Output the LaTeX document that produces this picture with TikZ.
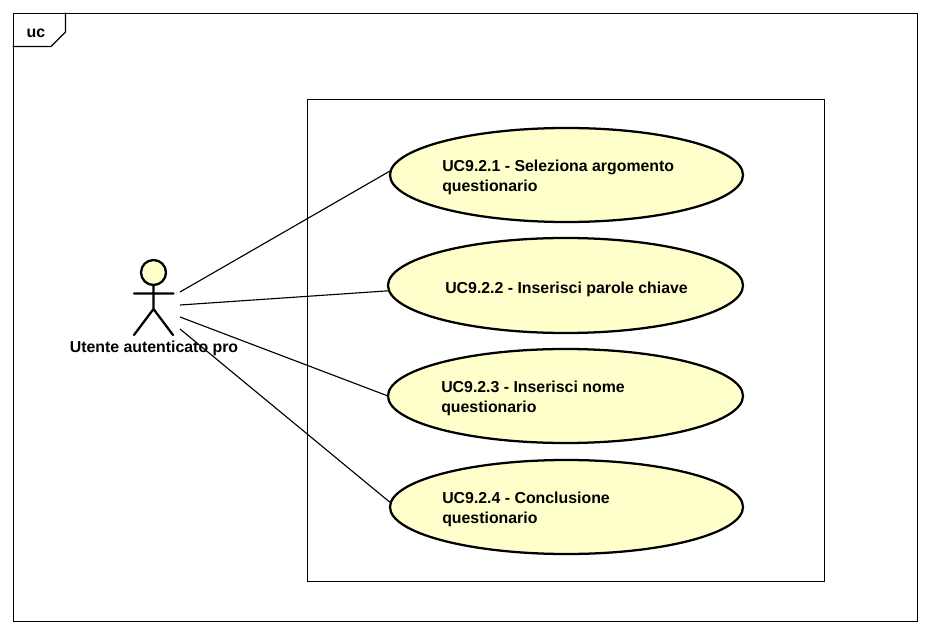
\documentclass[tikz,border=0pt]{standalone}
\usepackage{fontspec}
\setmainfont{Liberation Sans}
\usetikzlibrary{shapes.geometric}
\definecolor{ucfill}{RGB}{255,255,204}
\tikzset{x=0.75pt,y=-0.75pt,
 uc/.style={ellipse,draw=black,line width=1.7pt,fill=ucfill,inner sep=0,outer sep=0},
 lbl/.style={align=left,anchor=north west,inner sep=0,font=\fontsize{11.9pt}{15pt}\selectfont\bfseries},
 act/.style={line width=1.7pt,line cap=round},
 conn/.style={line width=0.85pt}}
\begin{document}
\begin{tikzpicture}
\useasboundingbox (0,0) rectangle (930,634);
\fill[white] (0,0) rectangle (930,634);
\node[draw,line width=0.85pt,minimum width=904*0.75pt,minimum height=608*0.75pt,inner sep=0,anchor=north west] (frame) at (12.7,12.7) {};
\draw[line width=0.85pt] (12.7,46.5) -- (51,46.5) -- (65.5,32) -- (65.5,12.7);
\node[lbl,anchor=center] (fl) at (36,33.5) {uc};
\node[draw,line width=0.85pt,minimum width=517*0.75pt,minimum height=482*0.75pt,inner sep=0,anchor=north west] (sys) at (306.7,98.7) {};
\node[uc,minimum width=353*0.75pt,minimum height=94*0.75pt] (u1) at (566.5,175) {};
\node[uc,minimum width=355*0.75pt,minimum height=95*0.75pt] (u2) at (565.5,285.5) {};
\node[uc,minimum width=355*0.75pt,minimum height=94*0.75pt] (u3) at (565.5,396) {};
\node[uc,minimum width=353*0.75pt,minimum height=94*0.75pt] (u4) at (566.5,507) {};
\node[lbl] (t1) at (442,160) {UC9.2.1 - Seleziona argomento\\questionario};
\node[lbl] (t2) at (445,282) {UC9.2.2 - Inserisci parole chiave};
\node[lbl] (t3) at (441,381) {UC9.2.3 - Inserisci nome\\questionario};
\node[lbl] (t4) at (442,492) {UC9.2.4 - Conclusione\\questionario};
\node[circle,draw=black,line width=1.7pt,fill=ucfill,minimum size=25*0.75pt,inner sep=0] (head) at (153.5,272.5) {};
\coordinate (neck) at (153.5,285.5);
\coordinate (hip) at (153.5,309);
\coordinate (la) at (134,293.5);
\coordinate (ra) at (173.5,293.5);
\coordinate (lf) at (134,335);
\coordinate (rf) at (173,335);
\draw[act] (head.south) -- (hip) -- (lf) (hip) -- (rf) (la) -- (ra);
\node[lbl,anchor=north] (an) at (154,341) {Utente autenticato pro};
\coordinate (a1) at (180,292);
\coordinate (a2) at (180,305);
\coordinate (a3) at (180,317);
\coordinate (a4) at (180,329);
\draw[conn] (a1) -- ([yshift=3pt]u1.west);
\draw[conn] (a2) -- ([yshift=-4pt]u2.west);
\draw[conn] (a3) -- (u3.west);
\draw[conn] (a4) -- ([yshift=3.5pt]u4.west);
\end{tikzpicture}
\end{document}
